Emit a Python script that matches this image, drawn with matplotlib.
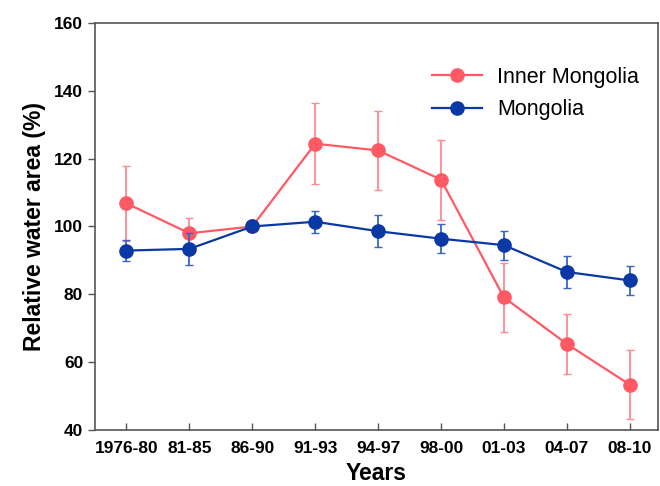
import matplotlib.pyplot as plt
import numpy as np

plt.rcParams['font.family'] = ['Liberation Sans', 'DejaVu Sans']

years = ['1976-80', '81-85', '86-90', '91-93', '94-97', '98-00', '01-03', '04-07', '08-10']

inner = [106.8, 98.0, 100.0, 124.4, 122.4, 113.8, 79.1, 65.4, 53.4]
inner_err = [11.0, 4.6, 0.0, 11.9, 11.6, 11.8, 10.2, 8.8, 10.2]

mongolia = [92.9, 93.4, 100.0, 101.4, 98.6, 96.4, 94.5, 86.6, 84.1]
mongolia_err = [3.0, 4.7, 0.0, 3.3, 4.7, 4.2, 4.3, 4.7, 4.4]

red = '#ff5a64'
blue = '#0a38a4'

x = np.arange(len(years))

fig = plt.figure(figsize=(6.6, 4.86), dpi=100)
ax = fig.add_axes([0.144, 0.115, 0.853, 0.838])

ax.errorbar(x, inner, yerr=inner_err, fmt='none', ecolor='#ff8a90', elinewidth=1.3, capsize=3)
ax.plot(x, inner, '-o', color=red, lw=1.6, ms=9.5, label='Inner Mongolia')
ax.errorbar(x, mongolia, yerr=mongolia_err, fmt='none', ecolor='#3a64c0', elinewidth=1.3, capsize=3)
ax.plot(x, mongolia, '-o', color=blue, lw=1.6, ms=9.5, label='Mongolia')

ax.set_xlim(-0.5, 8.45)
ax.set_ylim(40, 160)
ax.set_yticks(range(40, 161, 20))
ax.set_xticks(x)
ax.set_xticklabels(years)

for lab in ax.get_xticklabels() + ax.get_yticklabels():
    lab.set_fontweight('bold')
ax.tick_params(axis='x', direction='in', labelsize=12.5, length=5, pad=8, width=1, color='#555555')
ax.tick_params(axis='y', direction='out', labelsize=12.5, length=5, width=1, color='#555555')

for s in ax.spines.values():
    s.set_color('#555555')
    s.set_linewidth(1.2)

ax.set_xlabel('Years', fontsize=16.5, fontweight='bold', labelpad=4)
ax.set_ylabel('Relative water area (%)', fontsize=16.5, fontweight='bold', labelpad=6)

ax.legend(loc='upper right', bbox_to_anchor=(1.0, 0.94), frameon=False, fontsize=15.5,
          handlelength=2.3, handletextpad=0.7, labelspacing=0.55)

plt.savefig('out.png', dpi=100)
